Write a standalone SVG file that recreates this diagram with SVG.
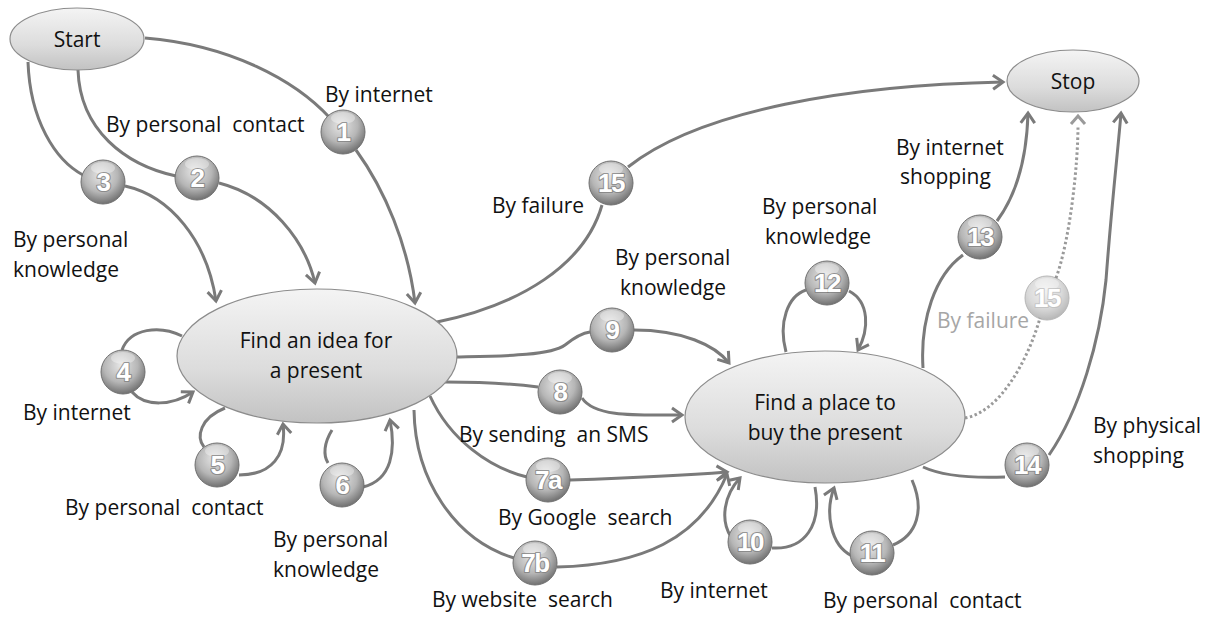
<svg xmlns="http://www.w3.org/2000/svg" width="1215" height="617" viewBox="0 0 1215 617">
<style>
.lbl{font-family:"Open Sans","Liberation Sans",sans-serif;font-size:21px;fill:#111}
.ntx{font-family:"Open Sans","Liberation Sans",sans-serif;font-size:21px;fill:#111;text-anchor:middle}
.num{font-family:"Liberation Sans","Open Sans",sans-serif;font-size:26px;font-weight:bold;fill:#fff;text-anchor:middle;stroke:#7c7c7c;stroke-opacity:0.75;stroke-width:2.2;paint-order:stroke;stroke-linejoin:round;letter-spacing:-1.5px}
.node{fill:url(#ng);stroke:#8c8c8c;stroke-width:1.2}
.c{fill:none;stroke:#7a7a7a;stroke-width:3}
.ca{fill:none;stroke:#7a7a7a;stroke-width:3;marker-end:url(#arr)}
.dot{fill:none;stroke:#9a9a9a;stroke-width:3;stroke-dasharray:2.5 2.5}
.ball{fill:url(#bg);stroke:#707070;stroke-width:1}
.hl{fill:#fff;opacity:0.35}
</style>
<defs>
<linearGradient id="ng" x1="0" y1="0" x2="0" y2="1">
<stop offset="0" stop-color="#f4f4f4"/>
<stop offset="0.6" stop-color="#dcdcdc"/>
<stop offset="1" stop-color="#c2c2c2"/>
</linearGradient>
<radialGradient id="bg" cx="0.45" cy="0.35" r="0.7">
<stop offset="0" stop-color="#e6e6e6"/>
<stop offset="0.55" stop-color="#b6b6b6"/>
<stop offset="1" stop-color="#646464"/>
</radialGradient>
<marker id="arr" viewBox="-13 -9 16 18" refX="0" refY="0" markerWidth="16" markerHeight="18" markerUnits="userSpaceOnUse" orient="auto">
<path d="M-10,-7 L0,0 L-10,7" fill="none" stroke="#7a7a7a" stroke-width="3"/>
</marker>
</defs>

<g id="connectors">
<!-- 1 -->
<path class="c" d="M145,38 C230,45 295,80 330,118"/>
<path class="ca" d="M356,150 C385,190 408,245 415,303"/>
<!-- 2 -->
<path class="c" d="M78,70 C80,130 125,165 176,176"/>
<path class="ca" d="M219,183 C270,196 305,240 315,283"/>
<!-- 3 -->
<path class="c" d="M28,62 C30,120 55,160 83,175"/>
<path class="ca" d="M125,186 C170,196 207,240 216,301"/>
<!-- 4 -->
<path class="c" d="M182,336 C160,325 130,328 122,350"/>
<path class="ca" d="M132,392 C145,407 172,406 193,392"/>
<!-- 5 -->
<path class="c" d="M225,408 C200,418 196,437 204,447"/>
<path class="ca" d="M239,475 C272,475 287,455 283,424"/>
<!-- 6 -->
<path class="c" d="M332,430 C324,443 323,455 328,463"/>
<path class="ca" d="M363,487 C392,480 396,450 390,420"/>
<!-- 15 top -->
<path class="c" d="M437,322 C520,305 585,265 602,205"/>
<path class="ca" d="M628,167 C700,110 850,85 1003,82"/>
<!-- 9 -->
<path class="c" d="M455,357 C500,356 550,356 565,345 C575,337 582,333 590,332"/>
<path class="ca" d="M634,330 C682,330 715,345 729,363"/>
<!-- 8 -->
<path class="c" d="M445,382 C490,382 515,384 538,387"/>
<path class="ca" d="M582,398 C595,418 640,415 682,415"/>
<!-- 7a -->
<path class="c" d="M430,396 C450,440 490,468 527,477"/>
<path class="ca" d="M570,480 C630,478 690,475 727,472"/>
<!-- 7b -->
<path class="c" d="M414,410 C415,480 455,540 514,558"/>
<path class="ca" d="M557,567 C640,565 700,540 727,474"/>
<!-- 10 -->
<path class="c" d="M815,487 C822,525 805,550 772,548"/>
<path class="ca" d="M731,537 C720,520 724,495 740,478"/>
<!-- 11 -->
<path class="c" d="M912,480 C925,510 917,535 893,545"/>
<path class="ca" d="M852,556 C830,545 825,512 834,488"/>
<!-- 12 -->
<path class="c" d="M786,352 C778,322 788,296 806,290"/>
<path class="ca" d="M849,291 C870,302 869,330 858,350"/>
<!-- 13 -->
<path class="c" d="M923,368 C920,320 935,275 963,255"/>
<path class="ca" d="M997,221 C1020,190 1027,150 1028,113"/>
<!-- 15 faded, dotted -->
<path class="dot" d="M965,418 C1000,412 1028,360 1040,318"/>
<path class="dot" d="M1056,278 C1070,240 1078,165 1078,125"/>
<path d="M1071,124 L1078,116 L1085,124" fill="none" stroke="#9a9a9a" stroke-width="3"/>
<!-- 14 -->
<path class="c" d="M923,467 C945,477 980,478 1005,477"/>
<path class="ca" d="M1049,455 C1080,410 1100,340 1106,280 C1112,200 1118,150 1121,113"/>
</g>

<g id="start"><ellipse class="node" cx="77" cy="39" rx="67" ry="31"/><text class="ntx" x="77" y="47">Start</text></g>
<g id="stop"><ellipse class="node" cx="1073" cy="81" rx="66" ry="31"/><text class="ntx" x="1073" y="89">Stop</text></g>
<g id="find-idea"><ellipse class="node" cx="317" cy="356" rx="140" ry="67"/><text class="ntx" x="316" y="348">Find an idea for</text><text class="ntx" x="316" y="378">a present</text></g>
<g id="find-place"><ellipse class="node" cx="825" cy="417" rx="140" ry="66"/><text class="ntx" x="825" y="410">Find a place to</text><text class="ntx" x="825" y="440">buy the present</text></g>

<g id="badges">
<g id="b1"><circle class="ball" cx="343" cy="132" r="22"/><ellipse class="hl" cx="343" cy="118" rx="12" ry="6"/><text class="num" x="343" y="141">1</text></g>
<g id="b2"><circle class="ball" cx="197" cy="178" r="22"/><ellipse class="hl" cx="197" cy="164" rx="12" ry="6"/><text class="num" x="197" y="187">2</text></g>
<g id="b3"><circle class="ball" cx="103" cy="182" r="22"/><ellipse class="hl" cx="103" cy="168" rx="12" ry="6"/><text class="num" x="103" y="191">3</text></g>
<g id="b4"><circle class="ball" cx="123" cy="372" r="22"/><ellipse class="hl" cx="123" cy="358" rx="12" ry="6"/><text class="num" x="123" y="381">4</text></g>
<g id="b5"><circle class="ball" cx="217" cy="465" r="22"/><ellipse class="hl" cx="217" cy="451" rx="12" ry="6"/><text class="num" x="217" y="474">5</text></g>
<g id="b6"><circle class="ball" cx="342" cy="485" r="22"/><ellipse class="hl" cx="342" cy="471" rx="12" ry="6"/><text class="num" x="342" y="494">6</text></g>
<g id="b7a"><circle class="ball" cx="548" cy="480" r="22"/><ellipse class="hl" cx="548" cy="466" rx="12" ry="6"/><text class="num" x="548" y="489">7a</text></g>
<g id="b7b"><circle class="ball" cx="535" cy="563" r="22"/><ellipse class="hl" cx="535" cy="549" rx="12" ry="6"/><text class="num" x="535" y="572">7b</text></g>
<g id="b8"><circle class="ball" cx="560" cy="392" r="22"/><ellipse class="hl" cx="560" cy="378" rx="12" ry="6"/><text class="num" x="560" y="401">8</text></g>
<g id="b9"><circle class="ball" cx="612" cy="330" r="22"/><ellipse class="hl" cx="612" cy="316" rx="12" ry="6"/><text class="num" x="612" y="339">9</text></g>
<g id="b10"><circle class="ball" cx="750" cy="542" r="22"/><ellipse class="hl" cx="750" cy="528" rx="12" ry="6"/><text class="num" x="750" y="551">10</text></g>
<g id="b11"><circle class="ball" cx="872" cy="553" r="22"/><ellipse class="hl" cx="872" cy="539" rx="12" ry="6"/><text class="num" x="872" y="562">11</text></g>
<g id="b12"><circle class="ball" cx="827" cy="283" r="22"/><ellipse class="hl" cx="827" cy="269" rx="12" ry="6"/><text class="num" x="827" y="292">12</text></g>
<g id="b13"><circle class="ball" cx="980" cy="237" r="22"/><ellipse class="hl" cx="980" cy="223" rx="12" ry="6"/><text class="num" x="980" y="246">13</text></g>
<g id="b14"><circle class="ball" cx="1027" cy="465" r="22"/><ellipse class="hl" cx="1027" cy="451" rx="12" ry="6"/><text class="num" x="1027" y="474">14</text></g>
<g id="b15"><circle class="ball" cx="611" cy="183" r="22"/><ellipse class="hl" cx="611" cy="169" rx="12" ry="6"/><text class="num" x="611" y="192">15</text></g>
<g id="b15-faded" opacity="0.5"><circle class="ball" cx="1047" cy="298" r="22"/><ellipse class="hl" cx="1047" cy="284" rx="12" ry="6"/><text class="num" x="1047" y="307">15</text></g>
</g>

<g id="labels">
<text class="lbl" x="325" y="102">By internet</text>
<text class="lbl" x="106" y="132" xml:space="preserve">By personal  contact</text>
<text class="lbl" x="13" y="247">By personal</text>
<text class="lbl" x="13" y="277">knowledge</text>
<text class="lbl" x="23" y="420">By internet</text>
<text class="lbl" x="65" y="515" xml:space="preserve">By personal  contact</text>
<text class="lbl" x="273" y="547">By personal</text>
<text class="lbl" x="273" y="577">knowledge</text>
<text class="lbl" x="492" y="213">By failure</text>
<text class="lbl" x="615" y="265">By personal</text>
<text class="lbl" x="620" y="295">knowledge</text>
<text class="lbl" x="459" y="442" xml:space="preserve">By sending  an SMS</text>
<text class="lbl" x="498" y="525" xml:space="preserve">By Google  search</text>
<text class="lbl" x="432" y="607" xml:space="preserve">By website  search</text>
<text class="lbl" x="660" y="598">By internet</text>
<text class="lbl" x="823" y="608" xml:space="preserve">By personal  contact</text>
<text class="lbl" x="762" y="214">By personal</text>
<text class="lbl" x="765" y="244">knowledge</text>
<text class="lbl" x="896" y="155">By internet</text>
<text class="lbl" x="900" y="184">shopping</text>
<text class="lbl" x="937" y="328" style="fill:#a6a6a6">By failure</text>
<text class="lbl" x="1093" y="433">By physical</text>
<text class="lbl" x="1093" y="463">shopping</text>
</g>
</svg>
